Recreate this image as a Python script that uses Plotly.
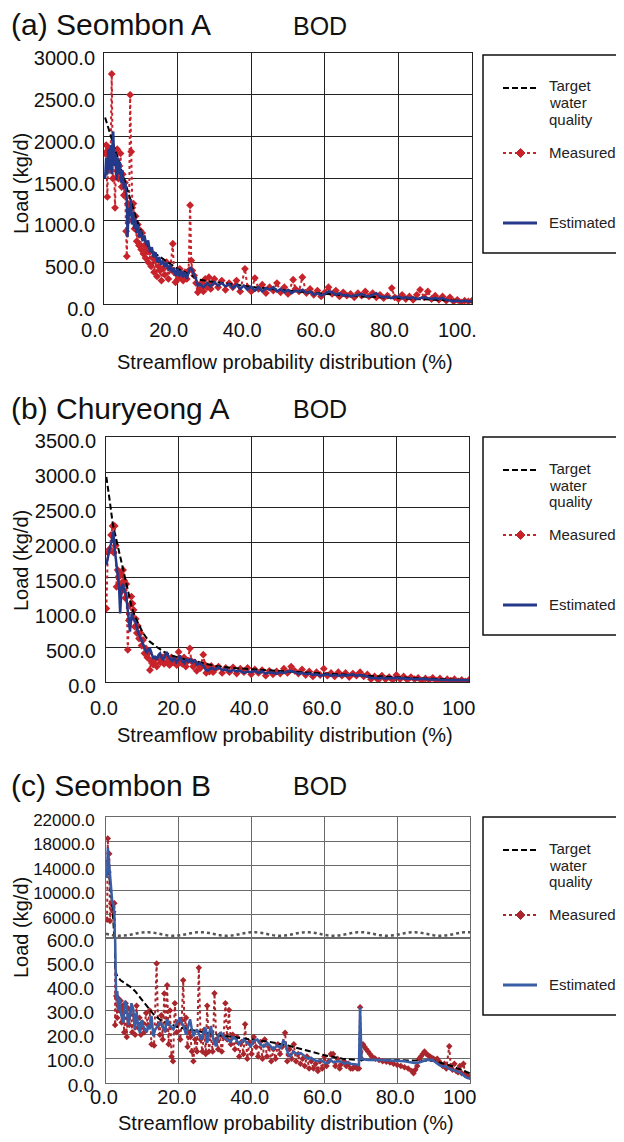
import math
import plotly.graph_objects as go

W, H = 624, 1142
OFF = 8  # page body margin in the browser

# ---------------- (a) Seombon A ----------------
a_target_x = [0.3, 1, 2, 3, 4, 5, 6, 7, 8, 9, 10, 11, 12, 14, 16, 18, 20, 22, 24, 26, 28, 30, 35, 40, 45, 50, 55, 60, 65, 70, 75, 80, 85, 90, 95, 100]
a_target_y = [2230, 2130, 1980, 1840, 1700, 1570, 1420, 1270, 1120, 990, 880, 770, 690, 600, 540, 480, 420, 380, 330, 290, 275, 265, 235, 205, 180, 160, 140, 120, 105, 90, 80, 70, 60, 50, 40, 30]

a_meas_x = [0.3, 0.6, 0.9, 1.2, 1.5, 1.8, 2.1, 2.4, 2.7, 3.0, 3.3, 3.6, 3.9, 4.2, 4.5, 4.8, 5.1, 5.4, 5.7, 6.0,
            6.2, 6.5, 6.8, 7.1, 7.4, 7.7, 8.0, 8.3, 8.6, 8.9, 9.2, 9.5, 9.8, 10.1, 10.4, 10.7, 11.0, 11.3, 11.6, 12.0,
            12.4, 12.8, 13.2, 13.6, 14.0, 14.4, 14.8, 15.2, 15.6, 16.0, 16.5, 17.0, 17.5, 18.0, 18.7, 19.0, 19.4, 19.8, 20.2, 20.6,
            21.0, 21.5, 22.0, 22.5, 23.0, 23.4, 23.7, 24.0, 24.5, 25.0, 25.5, 26.0, 26.5, 27.0, 27.5, 28.0, 28.5, 29.0, 29.5, 30.0,
            31, 32, 33, 34, 35, 36, 37, 38.3, 39, 40, 41, 42, 43, 44, 45, 46, 47, 48, 49, 50,
            51.4, 52, 53, 53.9, 55, 56, 57, 58, 59, 60, 61, 62, 63, 64, 65, 66, 67, 68, 69, 70,
            71, 72, 73, 74, 75, 76, 77, 78.2, 79, 80, 81, 82, 83, 84, 85, 85.9, 87, 88, 89, 90,
            91, 92, 93, 94, 95, 96, 97, 98, 99, 100]
a_meas_y = [1800, 1900, 1280, 1850, 1600, 1750, 2750, 1500, 1700, 1150, 1800, 1850, 1500, 1650, 1800, 1400, 1550, 1300, 1450, 870,
            570, 1200, 1000, 2500, 1820, 1150, 1200, 900, 1050, 750, 950, 700, 880, 650, 850, 600, 700, 550, 650, 500,
            620, 450, 550, 380, 520, 330, 450, 400, 280, 420, 350, 500, 300, 420, 720, 380, 260, 350, 300, 420,
            320, 280, 380, 300, 400, 1180, 520, 400, 340, 250, 140, 180, 250, 150, 300, 200, 320, 180, 250, 300,
            200, 280, 170, 250, 200, 280, 150, 420, 200, 150, 310, 180, 230, 130, 200, 160, 250, 140, 200, 120,
            290, 180, 150, 320, 130, 180, 110, 160, 90, 140, 200, 120, 160, 90, 140, 100, 120, 80, 130, 100,
            150, 90, 130, 80, 110, 70, 100, 190, 80, 60, 110, 60, 90, 50, 110, 170, 80, 150, 60, 100,
            50, 90, 40, 80, 30, 50, 20, 40, 30, 40]

a_est_x = [0.3, 0.6, 0.9, 1.2, 1.5, 1.8, 2.1, 2.5, 2.8, 3.1, 3.4, 3.7, 4.0, 4.3, 4.6, 5.0, 5.4, 5.8, 6.2, 6.4,
           6.7, 7.0, 7.3, 7.6, 7.9, 8.2, 8.5, 8.8, 9.2, 9.6, 10.0, 10.5, 11.0, 11.5, 12.0, 12.5, 13.0, 13.5, 14.0, 14.5,
           15.0, 15.5, 16.0, 16.5, 17.0, 17.5, 18.0, 18.5, 19.0, 19.5, 20.0, 20.5, 21.0, 21.5, 22.0, 22.5, 23.0, 23.5, 24.0, 24.5,
           25.0, 25.5, 26, 27, 28, 29, 30, 31, 32, 33, 34, 35, 36, 37, 38, 39, 40, 41, 42, 43,
           44, 45, 46, 47, 48, 49, 50, 51, 52, 53, 54, 55, 56, 57, 58, 59, 60, 61, 62, 63,
           64, 65, 66, 67, 68, 69, 70, 71, 72, 73, 74, 75, 76, 77, 78, 79, 80, 81, 82, 83,
           84, 85, 86, 87, 88, 89, 90, 91, 92, 93, 94, 95, 96, 97, 98, 99, 100]
a_est_y = [1500, 1750, 1550, 1850, 1600, 1900, 1550, 2060, 1650, 1800, 1480, 1750, 1550, 1700, 1450, 1600, 1380, 1450, 1250, 800,
           1150, 1050, 1250, 950, 1100, 900, 1020, 850, 950, 800, 880, 750, 820, 700, 760, 620, 680, 560, 620, 500,
           560, 470, 520, 440, 500, 400, 470, 380, 430, 340, 420, 330, 400, 320, 380, 300, 380, 440, 400, 350,
           300, 220, 240, 200, 250, 210, 260, 220, 250, 210, 240, 190, 230, 180, 220, 170, 210, 160, 200, 150,
           190, 170, 200, 150, 180, 140, 170, 130, 160, 150, 170, 130, 150, 110, 130, 100, 120, 150, 140, 110,
           130, 100, 110, 90, 100, 110, 120, 100, 90, 110, 130, 90, 80, 90, 70, 80, 90, 70, 80, 70,
           80, 60, 70, 80, 70, 60, 70, 60, 70, 50, 40, 30, 40, 30, 40, 30, 40]

# ---------------- (b) Churyeong A ----------------
b_target_x = [0.1, 0.5, 1, 1.5, 2, 3, 4, 5, 6, 7, 8, 9, 10, 11, 12, 14, 16, 18, 20, 22, 25, 28, 30, 35, 40, 45, 50, 55, 60, 65, 70, 75, 80, 85, 90, 95, 100]
b_target_y = [2930, 2800, 2600, 2400, 2220, 2000, 1780, 1550, 1300, 1090, 930, 820, 720, 640, 580, 500, 430, 380, 350, 320, 290, 250, 230, 200, 180, 165, 150, 135, 120, 105, 95, 80, 70, 55, 45, 35, 25]

b_meas_x = [0.1, 0.5, 1.0, 1.4, 1.8, 2.1, 2.4, 2.7, 2.9, 3.2, 3.5, 3.8, 4.1, 4.4, 4.7, 5.0, 5.3, 5.6, 6.0, 6.3,
            6.6, 7.0, 7.3, 7.6, 7.9, 8.2, 8.5, 8.8, 9.1, 9.5, 9.8, 10.2, 10.6, 11.0, 11.4, 11.8, 12.1, 12.5, 13.0, 13.5,
            14.0, 14.5, 15.0, 15.5, 16.0, 16.5, 17.0, 17.5, 18.0, 18.5, 19.0, 19.5, 20.0, 20.5, 21.0, 21.5, 22.0, 22.5, 23.1, 23.5,
            24.0, 24.5, 25.0, 25.5, 26.0, 26.8, 27.2, 27.6, 28.0, 28.5, 29.0, 29.5, 30, 31, 32, 33, 34, 35, 36, 37,
            38, 39, 40, 41, 42, 43, 44, 45, 46, 47, 48, 49, 50, 51, 52, 53, 54, 55, 56, 57,
            58, 59, 60, 61, 62, 63, 64, 65, 66, 67, 68, 69, 70, 71, 72, 73, 74, 75, 76, 77,
            78, 79, 80, 81, 82, 83, 84, 85, 86, 87, 88, 89, 90, 91, 92, 93, 94, 95, 96, 97,
            98, 99, 100]
b_meas_y = [1050, 1850, 1900, 2100, 2230, 1850, 2230, 1950, 1360, 1600, 1500, 1400, 1550, 1300, 1600, 1450, 1200, 1400, 460, 880,
            1100, 1220, 1120, 1030, 790, 900, 700, 800, 620, 700, 520, 600, 410, 480, 350, 420, 170, 300, 250, 320,
            220, 340, 280, 350, 260, 380, 300, 240, 350, 280, 320, 240, 430, 300, 260, 350, 220, 300, 480, 300,
            220, 280, 160, 250, 200, 390, 250, 130, 200, 150, 230, 140, 180, 220, 130, 200, 140, 210, 120, 190,
            140, 200, 110, 180, 130, 170, 90, 160, 110, 150, 120, 190, 130, 220, 160, 120, 180, 100, 150, 80,
            140, 100, 190, 90, 130, 80, 140, 90, 130, 70, 120, 90, 140, 80, 110, 40, 80, 30, 90, 40,
            70, 30, 100, 40, 80, 30, 70, 40, 60, 20, 50, 30, 60, 20, 50, 10, 40, 20, 40, 10,
            30, 10, 30]

b_est_x = [0.1, 0.5, 1.0, 1.5, 2.0, 2.4, 2.8, 3.2, 3.6, 3.9, 4.3, 4.7, 5.1, 5.5, 5.9, 6.3, 6.6, 7.1, 7.5, 8.0,
           8.5, 8.9, 9.4, 9.8, 10.3, 10.8, 11.2, 11.7, 12.1, 12.6, 13.1, 13.5, 14.0, 14.5, 14.9, 15.4, 15.8, 16.3, 16.7, 17.2,
           17.6, 18.2, 18.8, 19.4, 20.0, 20.4, 21.0, 21.6, 22.2, 22.8, 23.2, 23.8, 24.4, 25.0, 25.9, 26.5, 27.0, 27.5, 28, 29,
           30, 31, 32, 33, 34, 35, 36, 37, 38, 39, 40, 41, 42, 43, 44, 45, 46, 47, 48, 49,
           50, 51, 52, 53, 54, 55, 56, 57, 58, 59, 60, 61, 62, 63, 64, 65, 66, 67, 68, 69,
           70, 71, 72, 73, 74, 75, 76, 77, 78, 79, 80, 81, 82, 83, 84, 85, 86, 87, 88, 89,
           90, 91, 92, 93, 94, 95, 96, 97, 98, 99, 100]
b_est_y = [1670, 1800, 1900, 2000, 2150, 1900, 1700, 1500, 1350, 980, 1360, 1400, 1300, 1270, 1050, 900, 720, 980, 900, 880,
           780, 700, 650, 600, 520, 480, 410, 470, 480, 400, 330, 370, 320, 390, 410, 340, 320, 380, 430, 360,
           340, 300, 350, 280, 320, 380, 300, 270, 330, 280, 340, 270, 320, 250, 270, 240, 220, 170, 160, 200,
           180, 210, 170, 180, 150, 170, 150, 160, 130, 150, 140, 160, 130, 150, 120, 140, 130, 120, 140, 130,
           150, 160, 140, 120, 130, 110, 120, 100, 110, 90, 100, 110, 90, 100, 90, 100, 90, 100, 110, 90,
           100, 90, 80, 55, 60, 50, 60, 50, 55, 50, 60, 50, 55, 45, 50, 40, 45, 40, 45, 35,
           40, 35, 30, 35, 30, 25, 30, 25, 30, 25, 30]

# ---------------- (c) Seombon B ----------------
c_target_x = [0.3, 0.8, 1.3, 1.8, 2.2, 2.5, 3, 4, 5, 6, 7, 8, 9, 10, 11, 12, 13, 15, 20, 25, 30, 35, 40, 45, 50, 55, 60, 65, 70, 75, 80, 85, 90, 95, 100]
c_target_y = [15000, 13000, 10000, 7000, 3000, 470, 445, 425, 415, 405, 395, 380, 360, 345, 325, 305, 285, 260, 230, 215, 200, 190, 180, 170, 155, 135, 115, 100, 95, 95, 95, 95, 92, 70, 40]

c_meas_x = [0.3, 0.5, 0.7, 0.9, 1.1, 1.4, 1.7, 2.0, 2.3, 2.5, 2.8, 3.1, 3.4, 3.7, 4.0, 4.3, 4.6, 5.0, 5.4, 5.7,
            6.0, 6.4, 6.8, 7.2, 7.6, 8.0, 8.4, 8.8, 9.2, 9.6, 10.0, 10.5, 11.0, 11.5, 12.0, 12.5, 13.2, 13.9, 14.3, 14.8,
            15.2, 15.6, 16.0, 16.4, 16.8, 17.2, 17.6, 18.0, 18.4, 18.9, 19.4, 19.9, 20.4, 20.8, 21.2, 21.6, 22.0, 22.4, 22.8, 23.2,
            23.6, 24.0, 24.5, 25.0, 25.5, 26.0, 26.5, 27.0, 27.4, 27.8, 28.3, 28.8, 29.3, 29.8, 30.3, 30.8, 31.3, 31.8, 32.3, 32.8,
            33.3, 33.8, 34.3, 34.8, 35.4, 36.0, 36.6, 37.2, 37.8, 38.2, 38.8, 39.4, 40.0, 40.6, 41.2, 41.8, 42.4, 43.0, 43.6, 44.2,
            44.8, 45.4, 46.0, 46.6, 47.2, 47.8, 48.4, 49.2, 49.8, 50.4, 51.0, 51.6, 52.2, 52.8, 53.4, 54.0, 54.6, 55.2, 55.8, 56.4,
            57.0, 57.6, 58.2, 58.8, 59.4, 60.0, 60.6, 61.2, 61.8, 62.4, 63.0, 63.6, 64.2, 64.8, 65.4, 66.0, 66.6, 67.2, 67.8, 68.4,
            69.0, 69.5, 69.8, 70.2, 70.6, 71.0, 71.5, 72.0, 72.5, 73.0, 73.5, 74.0, 75.0, 76.0, 77.0, 78.0, 79.0, 80.0, 81.0, 82.0,
            83.0, 84.0, 84.5, 85.0, 85.5, 86.0, 86.5, 87.0, 87.5, 88.0, 88.5, 89.0, 89.5, 90.0, 90.5, 91.0, 91.5, 92.0, 92.5, 93.0,
            93.5, 94.3, 94.7, 95.2, 95.7, 96.2, 96.7, 97.2, 97.7, 98.2, 98.7, 99.3, 100.0]
c_meas_y = [5200, 18500, 13000, 16000, 5000, 7800, 8000, 6500, 7900, 240, 360, 270, 350, 300, 340, 250, 320, 210, 330, 190,
            310, 240, 300, 210, 280, 200, 320, 230, 270, 200, 250, 210, 290, 240, 300, 160, 155, 495, 240, 200,
            280, 180, 370, 220, 405, 160, 300, 110, 90, 330, 210, 250, 180, 260, 425, 230, 270, 150, 210, 190,
            130, 90, 180, 130, 477, 180, 130, 220, 120, 320, 130, 200, 130, 371, 180, 140, 200, 130, 190, 330,
            180, 302, 160, 200, 140, 190, 110, 170, 120, 243, 100, 170, 120, 190, 150, 110, 170, 100, 180, 110,
            150, 90, 140, 100, 160, 120, 150, 208, 90, 140, 100, 160, 90, 120, 80, 100, 70, 110, 60, 90,
            60, 80, 50, 90, 60, 110, 70, 90, 120, 120, 70, 100, 60, 80, 90, 70, 80, 60, 60, 70,
            60, 60, 313, 100, 160, 150, 140, 130, 120, 110, 105, 100, 95, 90, 88, 85, 80, 75, 70, 65,
            60, 50, 40, 55, 70, 100, 110, 120, 130, 120, 115, 110, 105, 100, 95, 100, 90, 80, 70, 80,
            60, 152, 70, 55, 80, 50, 45, 70, 40, 80, 40, 30, 25]

c_est_x = [0.3, 0.5, 0.7, 0.9, 1.1, 1.4, 1.7, 2.0, 2.3, 2.5, 2.6, 2.8, 3.1, 3.4, 3.8, 4.2, 4.8, 5.2, 5.7, 6.1,
           6.6, 7.0, 7.5, 7.9, 8.4, 8.8, 9.3, 9.8, 10.2, 10.7, 11.2, 11.6, 12.0, 12.5, 13.0, 13.5, 14.0, 14.8, 15.5, 16.2,
           16.7, 17.5, 18.5, 19.5, 20.3, 20.8, 21.3, 22.0, 22.6, 23.1, 23.5, 24.0, 24.5, 25.0, 25.6, 26.2, 26.8, 27.3, 27.8, 28.3,
           28.8, 29.5, 30.2, 30.9, 31.6, 32.4, 33.4, 34.2, 35.0, 35.8, 36.5, 37.0, 37.8, 38.6, 39.3, 39.8, 40.6, 41.6, 42.4, 43.3,
           44.3, 45.2, 46.0, 47.0, 48.0, 48.7, 49.3, 50.0, 50.7, 51.5, 52.4, 53.5, 54.5, 55.5, 56.3, 57.1, 58.0, 59.0, 60.0, 60.8,
           61.7, 62.5, 63.5, 64.5, 65.5, 66.3, 67.2, 68.1, 69.0, 69.5, 69.8, 70.2, 71.0, 72.0, 74.0, 76.0, 78.0, 80.0, 82.0, 84.0,
           85.0, 86.0, 87.0, 88.0, 89.6, 90.5, 91.5, 92.4, 93.2, 94.0, 95.0, 96.0, 97.0, 98.0, 98.7, 99.5, 100.0]
c_est_y = [12000, 17000, 15500, 14000, 12000, 9000, 8200, 7800, 6000, 600, 400, 350, 380, 300, 348, 280, 250, 340, 320, 240,
           280, 330, 305, 222, 292, 240, 208, 260, 236, 220, 210, 240, 222, 278, 194, 220, 230, 250, 240, 210,
           264, 240, 222, 250, 271, 250, 236, 200, 240, 264, 230, 194, 210, 222, 200, 180, 210, 230, 166, 200,
           236, 180, 152, 200, 208, 190, 180, 170, 190, 180, 160, 166, 180, 170, 160, 152, 175, 180, 160, 150,
           166, 150, 140, 155, 145, 175, 166, 120, 110, 130, 120, 124, 110, 100, 105, 96, 90, 95, 85, 82,
           95, 85, 90, 89, 80, 85, 80, 79, 75, 75, 313, 99, 97, 95, 96, 95, 94, 93, 90, 85,
           82, 85, 90, 95, 96, 85, 75, 68, 70, 60, 55, 50, 45, 35, 25, 20, 20]

# ---------------- styling ----------------
FONT = "Liberation Sans, Arial, sans-serif"
RED_AB, BLUE_AB = "#C8232B", "#24398A"
RED_C, BLUE_C = "#A8262C", "#3A5EA6"


def fx(p):
    return (p - OFF) / W


def fy(p):
    return 1 - (p - OFF) / H


fig = go.Figure()


def add_series(xa, ya, tx, ty, mx, my, ex, ey, red, blue, msize):
    fig.add_trace(go.Scatter(x=mx, y=my, xaxis=xa, yaxis=ya, mode="lines+markers",
                             line=dict(color=red, width=2, dash="dot"),
                             marker=dict(symbol="diamond", size=msize, color=red),
                             showlegend=False, hoverinfo="skip"))
    fig.add_trace(go.Scatter(x=tx, y=ty, xaxis=xa, yaxis=ya, mode="lines",
                             line=dict(color="black", width=2, dash="6px,3px"),
                             showlegend=False, hoverinfo="skip"))
    fig.add_trace(go.Scatter(x=ex, y=ey, xaxis=xa, yaxis=ya, mode="lines",
                             line=dict(color=blue, width=2.5),
                             showlegend=False, hoverinfo="skip"))


add_series("x", "y", a_target_x, a_target_y, a_meas_x, a_meas_y, a_est_x, a_est_y, RED_AB, BLUE_AB, 6)
add_series("x2", "y2", b_target_x, b_target_y, b_meas_x, b_meas_y, b_est_x, b_est_y, RED_AB, BLUE_AB, 6)
add_series("x3", "y3", c_target_x, c_target_y, c_meas_x, c_meas_y, c_est_x, c_est_y, RED_C, BLUE_C, 5)
add_series("x4", "y4", c_target_x, c_target_y, c_meas_x, c_meas_y, c_est_x, c_est_y, RED_C, BLUE_C, 5)


def xax(dom, anchor, shift, standoff, labels=True, grid="#222"):
    return dict(domain=[fx(dom[0]), fx(dom[1])], anchor=anchor, range=[0, 100], automargin=False,
                tickvals=[0, 20, 40, 60, 80, 100], tickformat=".1f",
                showticklabels=labels, ticks="", ticklabelshift=shift, ticklabelstandoff=standoff,
                showgrid=True, gridcolor=grid, gridwidth=1, zeroline=False,
                showline=True, mirror=True, linecolor=grid, linewidth=1,
                tickfont=dict(size=20, color="#111", family=FONT))


def yax(dom, anchor, rng, vals, shift, standoff, size=20, grid="#222"):
    return dict(domain=[fy(dom[1]), fy(dom[0])], anchor=anchor, range=rng, automargin=False,
                tickvals=vals, tickformat=".1f", ticks="", ticklabelshift=shift,
                ticklabelstandoff=standoff,
                showgrid=True, gridcolor=grid, gridwidth=1, zeroline=False,
                showline=True, mirror=True, linecolor=grid, linewidth=1,
                tickfont=dict(size=size, color="#111", family=FONT))


GC = "#6a6a6a"
fig.update_layout(
    width=W, height=H, autosize=False,
    margin=dict(l=0, r=0, t=0, b=0, autoexpand=False),
    paper_bgcolor="white", plot_bgcolor="white",
    font=dict(family=FONT, color="#111"),
    xaxis=xax((104, 472), "y", -9, 8),
    yaxis=yax((53, 304), "x", [0, 3000], [0, 500, 1000, 1500, 2000, 2500, 3000], 5, 4),
    xaxis2=xax((106, 469), "y2", -2, 8),
    yaxis2=yax((437, 682), "x2", [0, 3500], [0, 500, 1000, 1500, 2000, 2500, 3000, 3500], 4, 5),
    xaxis3=xax((106, 470), "y3", -2, -4, grid=GC),
    yaxis3=yax((938, 1083), "x3", [0, 600], [0, 100, 200, 300, 400, 500, 600], 2, 7, size=19, grid=GC),
    xaxis4=xax((106, 470), "y4", 0, 0, labels=False, grid=GC),
    yaxis4=yax((817, 938), "x4", [2200, 22000], [6000, 10000, 14000, 18000, 22000], 3, 7, size=17, grid=GC),
)

shapes = []
annotations = []

# cover the clipped part of the right-most x tick label
for (y0, y1) in [(312, 350), (690, 725), (1086, 1114)]:
    shapes.append(dict(type="rect", xref="paper", yref="paper", x0=fx(477), x1=1.0,
                       y0=fy(y1), y1=fy(y0), line=dict(width=0), fillcolor="white", layer="above"))

# axis break marker in panel (c)
pts = []
n = 120
for i in range(n + 1):
    px = 106 + (470 - 106) * i / n
    py = 934 + 1.8 * math.sin(px / 8.5)
    pts.append(f"{fx(px):.5f},{fy(py):.5f}")
shapes.append(dict(type="path", xref="paper", yref="paper", path="M " + " L ".join(pts),
                   line=dict(color="#555", width=2.5, dash="dot"), layer="above"))


def legend(T, red, blue):
    shapes.append(dict(type="rect", xref="paper", yref="paper", x0=fx(483), x1=fx(630),
                       y0=fy(T + 198), y1=fy(T), line=dict(color="#111", width=1.5),
                       fillcolor="white", layer="above"))
    shapes.append(dict(type="line", xref="paper", yref="paper", x0=fx(503), x1=fx(538),
                       y0=fy(T + 33), y1=fy(T + 33), line=dict(color="black", width=2, dash="6px,3px"),
                       layer="above"))
    shapes.append(dict(type="line", xref="paper", yref="paper", x0=fx(503), x1=fx(538),
                       y0=fy(T + 98), y1=fy(T + 98), line=dict(color=red, width=2, dash="dot"),
                       layer="above"))
    cx, cy, r = 520.5, T + 98, 4.5
    shapes.append(dict(type="path", xref="paper", yref="paper",
                       path=f"M {fx(cx - r)},{fy(cy)} L {fx(cx)},{fy(cy - r)} L {fx(cx + r)},{fy(cy)} L {fx(cx)},{fy(cy + r)} Z",
                       fillcolor=red, line=dict(color=red, width=1), layer="above"))
    shapes.append(dict(type="line", xref="paper", yref="paper", x0=fx(503), x1=fx(537),
                       y0=fy(T + 168), y1=fy(T + 168), line=dict(color=blue, width=3), layer="above"))
    for txt, off in [("Target", 31), ("water", 48), ("quality", 64), ("Measured", 97), ("Estimated", 167)]:
        annotations.append(dict(text=txt, xref="paper", yref="paper", x=fx(547), y=fy(T + off),
                                xanchor="left", yanchor="middle", showarrow=False,
                                font=dict(size=15, color="#222", family=FONT)))


legend(55, RED_AB, BLUE_AB)
legend(437, RED_AB, BLUE_AB)
legend(817, RED_C, BLUE_C)


def text(t, x, y, size, anchor="left", angle=0):
    annotations.append(dict(text=t, xref="paper", yref="paper", x=fx(x), y=fy(y),
                            xanchor=anchor, yanchor="middle", showarrow=False, textangle=angle,
                            font=dict(size=size, color="#111", family=FONT)))


text("(a) Seombon A", 9, 25, 30)
text("BOD", 291, 26, 25)
text("(b) Churyeong A", 9, 408, 30)
text("BOD", 291, 409, 25)
text("(c) Seombon B", 9, 785, 30)
text("BOD", 291, 786, 25)

text("Load (kg/d)", 21, 184, 20, "center", -90)
text("Load (kg/d)", 21, 561, 20, "center", -90)
text("Load (kg/d)", 21, 928, 20, "center", -90)

text("Streamflow probability distribution (%)", 285, 362, 20, "center")
text("Streamflow probability distribution (%)", 285, 735, 20, "center")
text("Streamflow probability distribution (%)", 286, 1123, 20, "center")

fig.update_layout(shapes=shapes, annotations=annotations)
fig.write_html("out.html")
